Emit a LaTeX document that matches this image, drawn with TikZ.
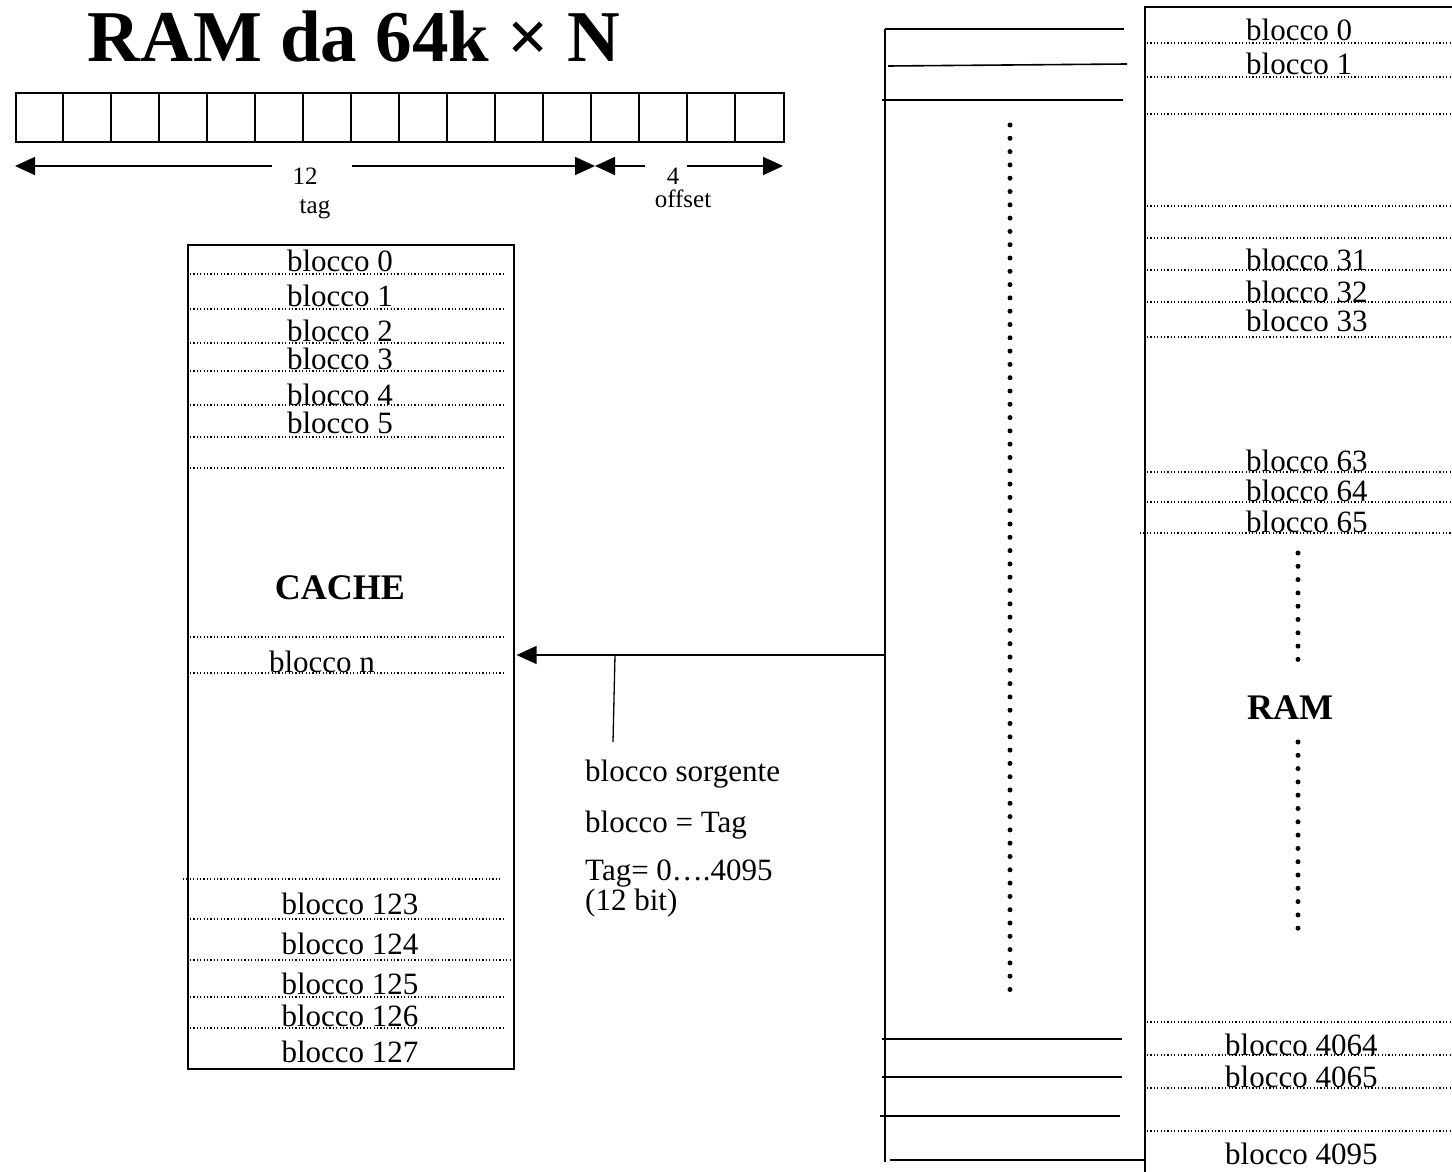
\documentclass[tikz,border=0pt]{standalone}
\usepackage{fontspec}
\setmainfont{Liberation Serif}
\usetikzlibrary{arrows.meta,positioning,calc}

\tikzset{
  lbl/.style={font=\fontsize{31}{36}\selectfont, inner sep=0pt, anchor=base},
  small/.style={font=\fontsize{25}{28}\selectfont, inner sep=0pt, anchor=base},
  bigb/.style={font=\fontsize{36}{40}\selectfont\bfseries, inner sep=0pt, anchor=base},
  sep/.style={line width=1.2pt, dash pattern=on 1.2pt off 2.2pt},
  wire/.style={line width=1.6pt},
  dotcol/.style={line width=5pt, line cap=round, dash pattern=on 0pt off 13.3pt},
  arr/.style={-{Triangle[length=20pt,width=18pt]}},
}

\begin{document}
\begin{tikzpicture}[x=1pt,y=-1pt]
  \useasboundingbox (0,0) rectangle (1452,1172);
  % Title
  \node[font=\fontsize{73}{80}\selectfont\bfseries, anchor=base, inner sep=0pt] (title) at (354,62) {RAM da 64k × N};
  % Address register: 16 bit
  \node[draw, wire, anchor=north west, minimum width=768pt, minimum height=49pt, inner sep=0pt] (reg) at (15,92) {};
  \foreach \i in {1,...,15}
    \draw[wire] ($(reg.north west)+(48*\i,0)$) -- ($(reg.south west)+(48*\i,0)$);
  % Field arrows
  \coordinate (a0) at (15,166);
  \coordinate (a1) at (272,166);
  \coordinate (a2) at (352,166);
  \coordinate (mid) at (595,166);
  \coordinate (a3) at (645,166);
  \coordinate (a4) at (687,166);
  \coordinate (a5) at (783,166);
  \draw[wire, arr] (a1) -- (a0);
  \draw[wire, arr] (a2) -- (mid);
  \draw[wire, arr] (a3) -- (mid);
  \draw[wire, arr] (a4) -- (a5);
  \node[small] (n12) at (305,184) {12};
  \node[small] (ntag) at (315,213) {tag};
  \node[small] (n4) at (673,184) {4};
  \node[small] (noff) at (683,207) {offset};
  % Cache
  \node[draw, wire, anchor=north west, minimum width=326pt, minimum height=824pt, inner sep=0pt] (cache) at (187,244) {};
  \foreach \y in {274,309,343,371,405,437,468,637,673,919,997,1028}
    \draw[sep] (190,\y) -- (505,\y);
  \draw[sep] (183,879) -- (500,879);
  \draw[sep] (190,960) -- (513,960);
  \foreach \y/\t in {271/0,306/1,341/2,369/3,405/4,433/5}
    \node[lbl] (c\t) at (340,\y) {blocco \t};
  \node[bigb] (cachelbl) at (340,599) {CACHE};
  \node[lbl] (cn) at (322,672) {blocco n};
  \foreach \y/\t in {914/123,954/124,994/125,1026/126,1062/127}
    \node[lbl] (c\t) at (350,\y) {blocco \t};
  % Bus lines
  \coordinate (btop) at (885,29);
  \coordinate (bbot) at (885,1162);
  \draw[wire] (btop) -- (bbot);
  \draw[wire] (btop) -- (1124,29);
  \draw[wire] (888,66) -- (1127,64);
  \draw[wire] (882,100) -- (1123,100);
  \draw[wire] (882,1039) -- (1122,1039);
  \draw[wire] (882,1077) -- (1122,1077);
  \draw[wire] (880,1116) -- (1120,1116);
  \draw[wire] (890,1160) -- (1145,1160);
  \draw[dotcol] (1010,125) -- (1010,990);
  % Source block to cache
  \coordinate (tap) at (885,655);
  \coordinate (tick) at (615,655);
  \draw[wire, arr] (tap) -- ($(tap -| cache.east)+(2,0)$);
  \draw[line width=1.3pt] (tick) -- (613,742);
  \node[lbl, anchor=base west] (src) at (585,781) {blocco sorgente};
  \node[lbl, anchor=base west] (eq) at (585,832) {blocco = Tag};
  \node[lbl, anchor=base west] (rng) at (585,880) {Tag= 0….4095};
  \node[lbl, anchor=base west] (bits) at (585,910) {(12 bit)};
  % RAM
  \coordinate (ramtl) at (1145,7);
  \draw[wire] (1452,7) -- (ramtl) -- (1145,1172);
  \foreach \y in {43,77,114,206,238,270,302,337,472,502,1022,1055,1088,1131}
    \draw[sep] (1147,\y) -- (1452,\y);
  \draw[sep] (1140,533) -- (1452,533);
  \foreach \y/\t in {41/0,75/1,270/31,302/32,331/33,471/63,501/64,532/65}
    \node[lbl, anchor=base west] (r\t) at (1246,\y) {blocco \t};
  \foreach \y/\t in {1055/4064,1087/4065,1164/4095}
    \node[lbl, anchor=base west] (r\t) at (1225,\y) {blocco \t};
  \node[bigb] (ramlbl) at (1290,719) {RAM};
  \draw[dotcol] (1298,553) -- (1298,670);
  \draw[dotcol] (1298,742) -- (1298,937);
\end{tikzpicture}
\end{document}
